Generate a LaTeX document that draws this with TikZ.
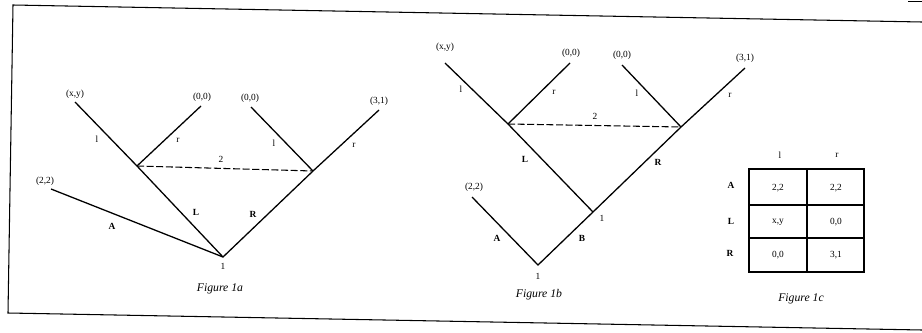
\documentclass[tikz,border=0pt]{standalone}
\usepackage{fontspec}
\setmainfont{Liberation Serif}

\begin{document}
\begin{tikzpicture}[
    x=0.03cm,
    y=-0.03cm,
    branch/.style={
        line width=1.1pt
    },
    infoset/.style={
        line width=0.9pt,
        dash pattern=on 6pt off 2.2pt
    },
    payoff/.style={
        font=\footnotesize
    },
    act/.style={
        font=\footnotesize
    },
    move/.style={
        font=\footnotesize\bfseries
    },
    caption/.style={
        font=\normalsize\itshape
    }
]

\useasboundingbox (0,0) rectangle (922,332);

% frame of the scan
\draw[line width=0.9pt] (922,22) -- (13,5) -- (8,313) -- (922,330);
\draw[line width=0.6pt] (908,1) -- (922,1);


% Figure 1a
\coordinate (aroot) at (223,257);
\coordinate (aleft) at (137,166);
\coordinate (aright) at (313,171);
\coordinate (aout) at (51,189);
\coordinate (aLl) at (75,102);
\coordinate (aLr) at (201,106);
\coordinate (aRl) at (251,107);
\coordinate (aRr) at (379,110);

\draw[branch] (aout) -- (aroot) -- (aright) -- (aRr);
\draw[branch] (aroot) -- (aleft) -- (aLl);
\draw[branch] (aleft) -- (aLr);
\draw[branch] (aright) -- (aRl);
\draw[infoset] (aleft) -- (aright);

\node[payoff] (aout-p) at (45,181) {(2,2)};
\node[payoff] (aLl-p) at (75,94) {(x,y)};
\node[payoff] (aLr-p) at (202,97) {(0,0)};
\node[payoff] (aRl-p) at (250,98) {(0,0)};
\node[payoff] (aRr-p) at (379,101) {(3,1)};

\node[move] (aA) at (112,226) {A};
\node[move] (aL) at (196,212) {L};
\node[move] (aR) at (253,214) {R};
\node[act] (aLl-a) at (97,139) {l};
\node[act] (aLr-a) at (178,140) {r};
\node[act] (aRl-a) at (274,143) {l};
\node[act] (aRr-a) at (354,145) {r};
\node[act] (a2) at (221,159) {2};
\node[act] (a1) at (223,266) {1};

\node[caption] (capa) at (220,289) {Figure 1a};


% Figure 1b
\coordinate (broot) at (538,265);
\coordinate (bmid) at (593,212);
\coordinate (bleft) at (508,124);
\coordinate (bright) at (681,127);
\coordinate (bout) at (472,197);
\coordinate (bLl) at (445,63);
\coordinate (bLr) at (570,63);
\coordinate (bRl) at (622,65);
\coordinate (bRr) at (745,68);

\draw[branch] (bout) -- (broot) -- (bmid) -- (bright) -- (bRr);
\draw[branch] (bmid) -- (bleft) -- (bLl);
\draw[branch] (bleft) -- (bLr);
\draw[branch] (bright) -- (bRl);
\draw[infoset] (bleft) -- (bright);

\node[payoff] (bout-p) at (474,187) {(2,2)};
\node[payoff] (bLl-p) at (445,47) {(x,y)};
\node[payoff] (bLr-p) at (571,53) {(0,0)};
\node[payoff] (bRl-p) at (622,55) {(0,0)};
\node[payoff] (bRr-p) at (745,58) {(3,1)};

\node[move] (bA) at (497,238) {A};
\node[move] (bB) at (582,238) {B};
\node[move] (bL) at (525,159) {L};
\node[move] (bR) at (658,162) {R};
\node[act] (bLl-a) at (461,89) {l};
\node[act] (bLr-a) at (554,92) {r};
\node[act] (bRl-a) at (637,93) {l};
\node[act] (bRr-a) at (730,95) {r};
\node[act] (b2) at (595,116) {2};
\node[act] (b1) at (602,218) {1};
\node[act] (b1r) at (538,276) {1};

\node[caption] (capb) at (539,295) {Figure 1b};


% Figure 1c
\draw[branch] (749,169) rectangle (864,272);
\draw[branch] (807,169) -- (807,272);
\draw[branch] (749,205) -- (864,205);
\draw[branch] (749,238) -- (864,238);

\node[act] (cl) at (780,155) {l};
\node[act] (cr) at (837,155) {r};
\node[move] (cA) at (731,185) {A};
\node[move] (cL) at (731,221) {L};
\node[move] (cR) at (730,253) {R};

\node[payoff] (cAl) at (778,188) {2,2};
\node[payoff] (cAr) at (836,188) {2,2};
\node[payoff] (cLl) at (778,222) {x,y};
\node[payoff] (cLr) at (836,222) {0,0};
\node[payoff] (cRl) at (778,255) {0,0};
\node[payoff] (cRr) at (836,255) {3,1};

\node[caption] (capc) at (801,299) {Figure 1c};

\end{tikzpicture}
\end{document}
